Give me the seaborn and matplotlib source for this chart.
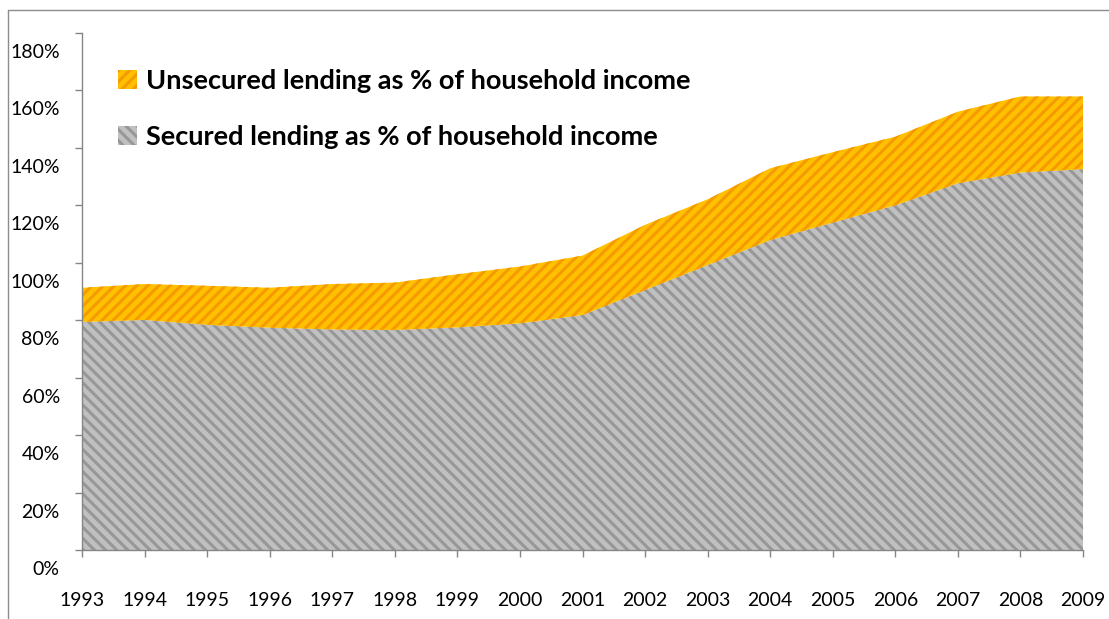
import matplotlib
matplotlib.use("Agg")
import matplotlib.pyplot as plt
import matplotlib.transforms as mtransforms
from matplotlib.lines import Line2D
from matplotlib.ticker import FuncFormatter
import seaborn as sns

# Household lending as a share of household income (%)
years = [1993, 1994, 1995, 1996, 1997, 1998, 1999, 2000, 2001,
         2002, 2003, 2004, 2005, 2006, 2007, 2008, 2009]
secured = [79.4, 80.1, 78.4, 77.4, 76.8, 76.6, 77.5, 78.9, 81.8,
           90.5, 99.2, 107.9, 114.0, 120.0, 127.7, 131.4, 132.6]
total = [91.3, 92.6, 92.0, 91.3, 92.6, 93.1, 96.0, 98.7, 102.5,
         113.2, 122.1, 132.9, 138.5, 143.9, 152.6, 157.9, 157.9]
unsecured = [t - s for t, s in zip(total, secured)]

series_labels = ["Secured lending as % of household income",
                 "Unsecured lending as % of household income"]
y_ticks = [0, 20, 40, 60, 80, 100, 120, 140, 160, 180]

sns.set_theme(style="white")
plt.rcParams["font.family"] = ["Lato", "DejaVu Sans"]
plt.rcParams["text.color"] = "black"
plt.rcParams["hatch.linewidth"] = 2.2

axis_grey = "#868686"

fig = plt.figure(figsize=(11.09, 6.19), dpi=100)
ax = fig.add_axes([82 / 1109, 69 / 619, 1001 / 1109, 517 / 619])

polys = ax.stackplot(
    years, secured, unsecured,
    labels=series_labels,
    colors=["#C0C0C0", "#FFC000"],
    linewidth=0,
)
polys[0].set_hatch("\\\\\\")
polys[0].set_edgecolor("#979797")
polys[1].set_hatch("///")
polys[1].set_edgecolor("#F59A00")
for p in polys:
    p.set_linewidth(0)

ax.set_xlim(years[0], years[-1])
ax.set_ylim(0, 180)
ax.set_xticks(years)
ax.set_yticks(y_ticks)
ax.yaxis.set_major_formatter(FuncFormatter(lambda v, _: f"{v:.0f}%"))

sns.despine(ax=ax)
for side in ("left", "bottom"):
    ax.spines[side].set_color(axis_grey)
    ax.spines[side].set_linewidth(1.0)

ax.tick_params(axis="both", which="major", direction="out", length=5,
               width=1.0, color=axis_grey, labelcolor="black",
               labelsize=14)
ax.tick_params(axis="y", pad=11)
ax.tick_params(axis="x", pad=25)
ax.tick_params(left=True, bottom=True)

# y labels sit a little below their tick marks
shift_down = mtransforms.ScaledTranslation(0, -18 / 100, fig.dpi_scale_trans)
for tick in ax.yaxis.get_major_ticks():
    tick.label1.set_transform(tick.label1.get_transform() + shift_down)

handles, labels = ax.get_legend_handles_labels()
leg = ax.legend(handles[::-1], labels[::-1], loc="upper left",
                bbox_to_anchor=(0.025, 0.952), frameon=False,
                handlelength=0.7, handleheight=0.7, handletextpad=0.35,
                labelspacing=1.2, borderaxespad=0,
                prop={"size": 19.5, "weight": "bold"})
for t in leg.get_texts():
    t.set_color("black")

# outer chart-area border (top and left edges)
border_kw = dict(color="#8C8C8C", linewidth=1.0, transform=fig.transFigure)
fig.add_artist(Line2D([8 / 1109, 1.0], [1 - 10 / 619, 1 - 10 / 619], **border_kw))
fig.add_artist(Line2D([8 / 1109, 8 / 1109], [0.0, 1 - 10 / 619], **border_kw))

fig.savefig("out.png", dpi=100)
